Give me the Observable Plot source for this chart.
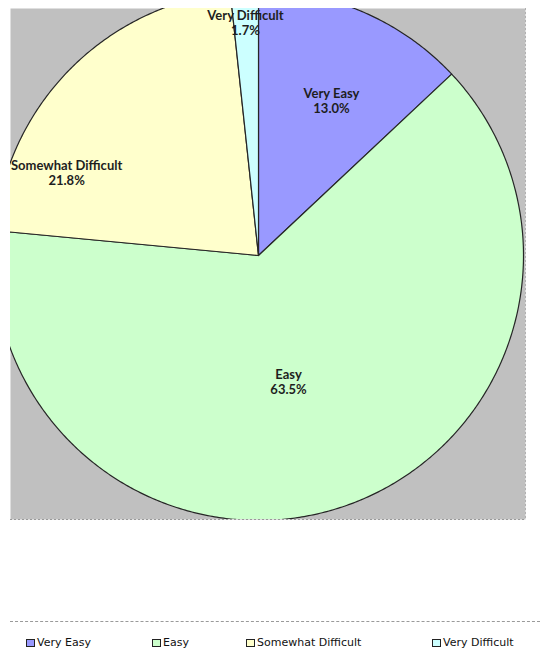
<!DOCTYPE html>
<html>
<head>
<meta charset="utf-8">
<script src="https://cdn.jsdelivr.net/npm/d3@7"></script>
<script src="https://cdn.jsdelivr.net/npm/@observablehq/plot@0.6"></script>
<style>
  html, body { margin: 0; padding: 0; background: #fff; width: 540px; height: 650px; overflow: hidden; }
  #chart svg { display: block; }
  #legend { position: relative; width: 540px; height: 130px; overflow: hidden; font-family: "DejaVu Sans", sans-serif; font-size: 11px; color: #111; }
  #legend .sep { position: absolute; left: 10px; right: 0; top: 101px; border-top: 1px dashed #9a9a9a; }
  #legend .item { position: absolute; top: 116px; white-space: nowrap; line-height: 14px; }
  #legend .sw { display: inline-block; width: 9px; height: 8px; border: 1px solid #222; margin-right: 2px; vertical-align: -1px; box-sizing: border-box; }
</style>
</head>
<body>
<div id="chart"></div>
<div id="legend"><div class="sep"></div></div>
<script>
// ---- data ----
const categories = ["Very Easy", "Easy", "Somewhat Difficult", "Very Difficult"];
const percents = [13.0, 63.5, 21.8, 1.7];
const colors = ["#9999FF", "#CCFFCC", "#FFFFCC", "#CCFFFF"];
// label placement (angle in degrees clockwise from 12 o'clock, radius as fraction of pie radius)
const labelAngles = [25.2, 166.6, 293.4, 356.8];
const labelRadii = [0.647, 0.489, 0.789, 0.881];
const legendLeft = [26, 152, 246, 432];

// ---- geometry ----
const W = 540, H = 520;
const cx = 258, cy = 255, R = 265;
const mL = 10, mR = 15, mT = 8, mB = 1;
const xDomain = [(mL - cx) / R, (W - mR - cx) / R];
const yDomain = [(cy - (H - mB)) / R, (cy - mT) / R];

const total = d3.sum(percents);
const slices = [];
let acc = 0;
categories.forEach((c, i) => {
  const a0 = acc / total * 2 * Math.PI;
  acc += percents[i];
  const a1 = acc / total * 2 * Math.PI;
  slices.push({cat: c, pct: percents[i], a0, a1});
});

const points = [];
for (const s of slices) {
  points.push({cat: s.cat, x: 0, y: 0});
  const n = Math.max(2, Math.ceil((s.a1 - s.a0) / (Math.PI / 360)));
  for (let k = 0; k <= n; k++) {
    const a = s.a0 + (s.a1 - s.a0) * k / n;
    points.push({cat: s.cat, x: Math.sin(a), y: Math.cos(a)});
  }
  points.push({cat: s.cat, x: 0, y: 0});
}

const labels = slices.map((s, i) => {
  const a = labelAngles[i] * Math.PI / 180;
  return {cat: s.cat, pct: s.pct, x: labelRadii[i] * Math.sin(a), y: labelRadii[i] * Math.cos(a)};
});

const plot = Plot.plot({
  width: W,
  height: H,
  marginLeft: mL, marginRight: mR, marginTop: mT, marginBottom: mB,
  x: {domain: xDomain, axis: null},
  y: {domain: yDomain, axis: null},
  color: {domain: categories, range: colors},
  style: {background: "#fff"},
  marks: [
    Plot.frame({fill: "#C0C0C0", stroke: "none"}),
    Plot.line(points, {x: "x", y: "y", z: "cat", fill: "cat", stroke: "#262626", strokeWidth: 1.2, strokeLinejoin: "round", clip: true}),
    Plot.text(labels, {
      x: "x", y: "y",
      text: d => `${d.cat}\n${d.pct.toFixed(1)}%`,
      fontFamily: "Lato, 'Open Sans', sans-serif",
      fontWeight: "bold",
      fontSize: 13,
      lineHeight: 1.15,
      fill: "#1e1e1e",
      clip: true
    }),
    Plot.ruleY([yDomain[0]], {stroke: "#9a9a9a", strokeDasharray: "2,2"}),
    Plot.ruleX([xDomain[1]], {stroke: "#b0b0b0", strokeDasharray: "2,2"})
  ]
});
document.getElementById("chart").appendChild(plot);

const legend = document.getElementById("legend");
categories.forEach((c, i) => {
  const item = document.createElement("div");
  item.className = "item";
  item.style.left = legendLeft[i] + "px";
  const sw = document.createElement("span");
  sw.className = "sw";
  sw.style.background = colors[i];
  item.appendChild(sw);
  item.appendChild(document.createTextNode(c));
  legend.appendChild(item);
});
</script>
</body>
</html>
